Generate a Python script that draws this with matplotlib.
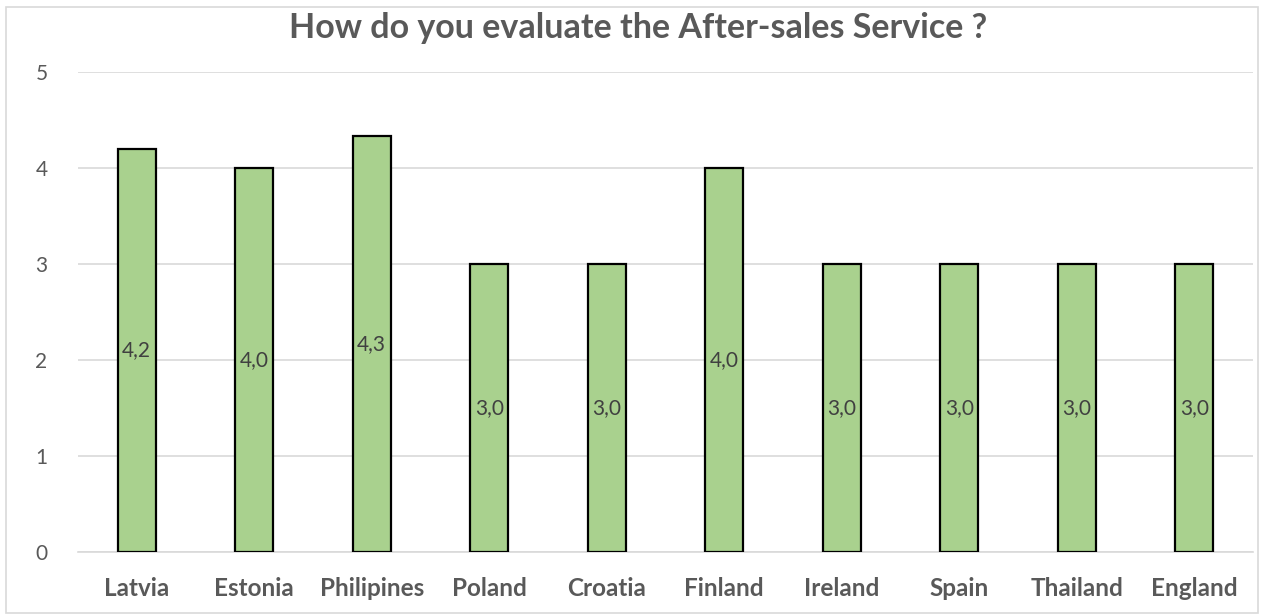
import numpy as np
import matplotlib.pyplot as plt
from matplotlib.patches import Rectangle

paises = ['Latvia', 'Estonia', 'Philipines', 'Poland', 'Croatia',
          'Finland', 'Ireland', 'Spain', 'Thailand', 'England']
notas = [4.2, 4.0, 4.33, 3.0, 3.0, 4.0, 3.0, 3.0, 3.0, 3.0]
yticks = [0, 1, 2, 3, 4, 5]

plt.rcParams['font.family'] = ['Lato', 'DejaVu Sans']
gris = '#595959'

fig = plt.figure(figsize=(12.64, 6.14), dpi=100)
# marco exterior del grafico
fig.patches.append(Rectangle((6 / 1264, 1 / 614), 1252 / 1264, 606 / 614,
                             transform=fig.transFigure, fill=False,
                             edgecolor='#D9D9D9', linewidth=1.2))

ax = fig.add_axes([78 / 1264, 62 / 614, 1175 / 1264, 480 / 614])
x = np.arange(len(paises))
barras = ax.bar(x, notas, width=0.32, color='#A9D18E', edgecolor='black',
                linewidth=1.6, zorder=3)

for xi, v in zip(x, notas):
    ax.text(xi, v / 2, f'{v:.1f}'.replace('.', ','), ha='center', va='center',
            fontsize=15, color='#404040', zorder=4)

ax.set_xlim(-0.5, len(paises) - 0.5)
ax.set_ylim(0, 5)
ax.set_yticks(yticks)
ax.set_xticks(x)
ax.set_xticklabels(paises, fontweight='bold', fontsize=17.5)
ax.tick_params(axis='both', length=0, labelcolor=gris)
ax.tick_params(axis='y', labelsize=15, pad=22)
ax.tick_params(axis='x', pad=18)
ax.grid(axis='y', color='#D9D9D9', linewidth=1.2, zorder=0)
for lado in ['top', 'right', 'left']:
    ax.spines[lado].set_visible(False)
ax.spines['bottom'].set_color('#D9D9D9')
ax.spines['bottom'].set_linewidth(1.2)

fig.text(0.505, 0.955, 'How do you evaluate the After-sales Service ?',
         ha='center', va='center', fontsize=24.5, fontweight='bold', color=gris)

fig.savefig('out.png', dpi=100)
